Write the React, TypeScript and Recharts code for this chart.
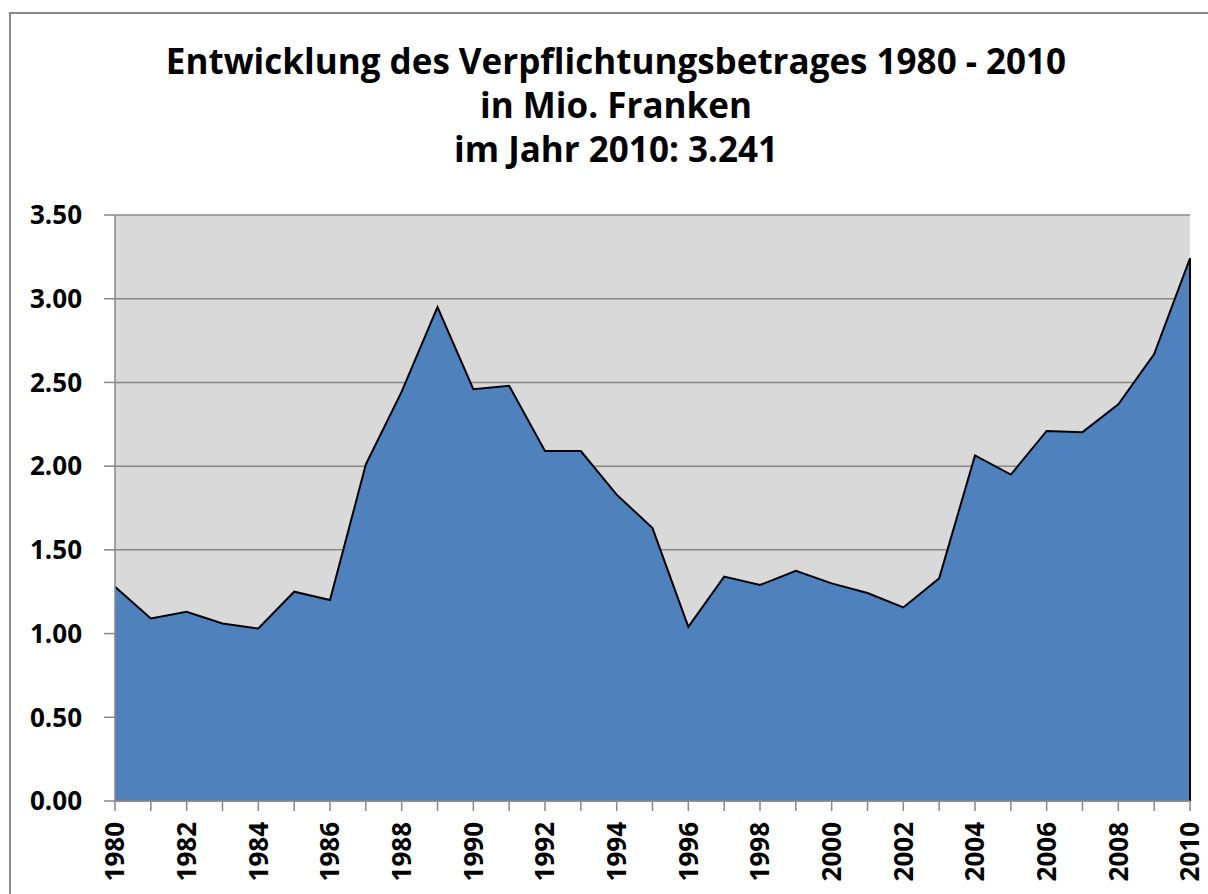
import React from 'react';
import { AreaChart, Area, XAxis, YAxis, CartesianGrid, ReferenceLine } from 'recharts';

const years = [
  1980, 1981, 1982, 1983, 1984, 1985, 1986, 1987, 1988, 1989,
  1990, 1991, 1992, 1993, 1994, 1995, 1996, 1997, 1998, 1999,
  2000, 2001, 2002, 2003, 2004, 2005, 2006, 2007, 2008, 2009, 2010,
];
const values = [
  1.28, 1.09, 1.13, 1.06, 1.03, 1.25, 1.2, 2.01, 2.445, 2.95,
  2.46, 2.48, 2.09, 2.09, 1.83, 1.63, 1.04, 1.34, 1.29, 1.375,
  1.3, 1.242, 1.156, 1.33, 2.064, 1.95, 2.21, 2.203, 2.369, 2.669, 3.241,
];
const yTicks = [0, 0.5, 1, 1.5, 2, 2.5, 3, 3.5];
const titleLines = [
  'Entwicklung des Verpflichtungsbetrages 1980 - 2010',
  'in Mio. Franken',
  'im Jahr 2010: 3.241',
];

const data = years.map((year, i) => ({ year, value: values[i] }));
const lastYear = years[years.length - 1];
const lastValue = values[values.length - 1];

const FONT = '"Open Sans", "DejaVu Sans", sans-serif';
const GRAY = '#878787';

const XTick = (props: any) => {
  const { x, y, payload } = props;
  if (payload.value % 2 !== 0) return <g />;
  return (
    <g transform={`translate(${x},${y})`}>
      <text
        transform="rotate(-90)"
        textAnchor="end"
        dy="0.36em"
        fill="#000"
        fontWeight={700}
        fontSize={26}
        fontFamily={FONT}
      >
        {payload.value}
      </text>
    </g>
  );
};

export default function App() {
  return (
    <div style={{ position: 'absolute', left: 0, top: 0, width: 1208, height: 894, overflow: 'hidden', background: '#fff' }}>
      <div
        style={{
          position: 'absolute',
          left: 9,
          top: 12,
          width: 1300,
          height: 1000,
          border: `2px solid ${GRAY}`,
          boxSizing: 'border-box',
        }}
      />
      <div
        style={{
          position: 'absolute',
          left: 116,
          top: 39,
          width: 1000,
          textAlign: 'center',
          fontFamily: FONT,
          fontWeight: 700,
          fontSize: 35,
          lineHeight: '44px',
          color: '#000',
        }}
      >
        {titleLines.map((t) => (
          <div key={t}>{t}</div>
        ))}
      </div>
      <div style={{ position: 'absolute', left: 0, top: 0 }}>
        <AreaChart width={1208} height={894} data={data} margin={{ top: 215, right: 18, bottom: 8, left: 10 }}>
          <CartesianGrid vertical={false} stroke={GRAY} strokeWidth={1.5} fill="#D9D9D9" />
          <XAxis
            dataKey="year"
            type="number"
            domain={[years[0], lastYear]}
            ticks={years}
            interval={0}
            height={85}
            tickSize={10}
            tickMargin={11}
            stroke={GRAY}
            strokeWidth={1.5}
            tick={<XTick />}
          />
          <YAxis
            domain={[0, 3.5]}
            ticks={yTicks}
            interval={0}
            width={105}
            tickSize={11}
            tickMargin={22}
            stroke={GRAY}
            strokeWidth={1.5}
            tickFormatter={(v: number) => v.toFixed(2)}
            tick={{ fill: '#000', fontSize: 26, fontWeight: 700, fontFamily: FONT }}
          />
          <Area
            type="linear"
            dataKey="value"
            stroke="#000"
            strokeWidth={2}
            fill="#4F81BD"
            fillOpacity={1}
            isAnimationActive={false}
            dot={false}
            activeDot={false}
          />
          <ReferenceLine
            segment={[
              { x: lastYear, y: 0 },
              { x: lastYear, y: lastValue },
            ]}
            stroke="#000"
            strokeWidth={2}
          />
        </AreaChart>
      </div>
    </div>
  );
}
